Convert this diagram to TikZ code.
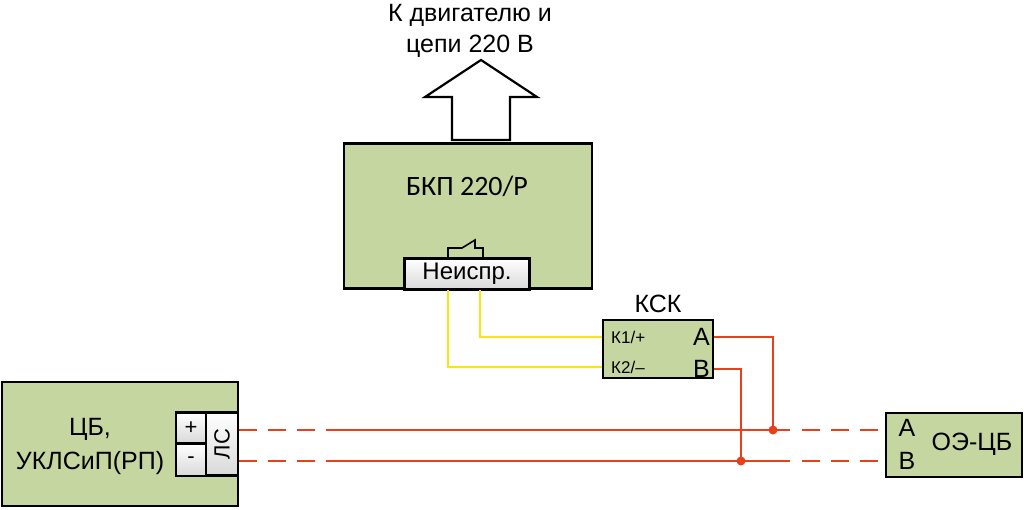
\documentclass[tikz,border=0pt]{standalone}
\usepackage{fontspec}
\setmainfont{Liberation Sans}
\newfontfamily\calibri{Carlito}
\usetikzlibrary{positioning}
\definecolor{boxgreen}{RGB}{197,214,160}
\definecolor{wirered}{RGB}{232,64,24}
\definecolor{wireyellow}{RGB}{250,228,20}
\tikzset{
  % device block
  device/.style = {
    draw = black,
    fill = boxgreen,
    line width = 2.2pt
  },
  % terminal cell
  term/.style = {
    draw = black,
    line width = 2.2pt,
    top color = white,
    bottom color = black!15
  },
  % line wires
  red wire/.style = {
    draw = wirered,
    line width = 2.6pt
  },
  yellow wire/.style = {
    draw = wireyellow,
    line width = 2.6pt
  },
  lead/.style = {
    red wire,
    dash pattern = on 18pt off 11pt
  },
  junction/.style = {
    circle,
    fill = wirered,
    inner sep = 0,
    minimum size = 9pt
  }
}

\begin{document}
\begin{tikzpicture}[x=1pt, y=-1pt, font=\fontsize{25}{28}\selectfont]
    \useasboundingbox (0,0) rectangle (1024,509);

    % output arrow
    \draw[line width=2.2pt, fill=white] (452,140) -- (452,97) -- (425,97)
    -- (481,60) -- (537,97) -- (510,97) -- (510,140) -- cycle;
    \node (motor) [align=center, inner sep=0pt, font=\fontsize{25}{31}\selectfont] at (470,31)
    {К двигателю и\\цепи 220 В};

    % relay unit
    \node[device, minimum width=248pt, minimum height=145pt] (bkp) at (468,216) {};
    \node (bkp-label) [font=\calibri\fontsize{28}{32}\selectfont] at (467,186) {БКП 220/Р};
    \node[term, minimum width=125pt, minimum height=31pt, inner sep=0pt, font=\fontsize{24}{26}\selectfont]
    (fault) at (467,274) {Неиспр.};
    \draw[line width=1.6pt] (448,258.5) -- (448,248) -- (462,248) -- (475,240)
    -- (475,248) -- (483,248) -- (483,258.5);

    % line monitor
    \node[device, minimum width=110pt, minimum height=58pt] (ksk) at (658,349) {};
    \node (ksk-label) [above=3pt of ksk] {КСК};
    \node (k1) [anchor=west, inner sep=2pt, font=\fontsize{17}{20}\selectfont] at (609,337) {К1/+};
    \node (k2) [anchor=west, inner sep=2pt, font=\fontsize{17}{20}\selectfont] at (609,367) {К2/–};
    \node (ksk-a) [anchor=east, inner sep=3pt] at (713,337) {А};
    \node (ksk-b) [anchor=east, inner sep=3pt] at (713,369) {В};

    % control panel
    \node[device, minimum width=236pt, minimum height=124pt] (cb) at (120,444) {};
    \node (cb-label) [align=center, inner sep=0pt, font=\fontsize{25}{34}\selectfont] at (90,446)
    {ЦБ,\\УКЛСиП(РП)};
    \node[term, minimum width=30pt, minimum height=31pt, inner sep=0pt, font=\fontsize{22}{24}\selectfont] (plus) at (191,428) {+};
    \node[term, minimum width=30pt, minimum height=32pt, inner sep=0pt, font=\fontsize{22}{24}\selectfont] (minus) at (191,460) {-};
    \node[term, minimum width=32pt, minimum height=63pt, inner sep=0pt, font=\fontsize{22}{24}\selectfont] (ls) at (222,444)
    {\rotatebox{90}{ЛС}};

    % end device
    \node[device, minimum width=136pt, minimum height=64pt] (oe) at (954,445) {};
    \node (oe-a) at (907,428) {А};
    \node (oe-b) at (907,461) {В};
    \node (oe-label) at (972,444) {ОЭ-ЦБ};

    \coordinate (tap-a) at (773,430);
    \coordinate (tap-b) at (741,461);

    % signal wires
    \draw[yellow wire] (480,290) |- (ksk.west |- k1);
    \draw[yellow wire] (448,290) |- (ksk.west |- k2);

    \draw[red wire] (ksk.east |- ksk-a) -| (tap-a);
    \draw[red wire] (ksk.east |- ksk-b) -| (tap-b);
    \node[junction] at (tap-a) {};
    \node[junction] at (tap-b) {};

    \draw[lead] (ls.east |- tap-a) -- (330,430);
    \draw[red wire] (330,430) -- (790,430);
    \draw[lead] (802,430) -- (oe.west |- tap-a);
    \draw[lead] (ls.east |- tap-b) -- (330,461);
    \draw[red wire] (330,461) -- (790,461);
    \draw[lead] (802,461) -- (oe.west |- tap-b);
\end{tikzpicture}
\end{document}
